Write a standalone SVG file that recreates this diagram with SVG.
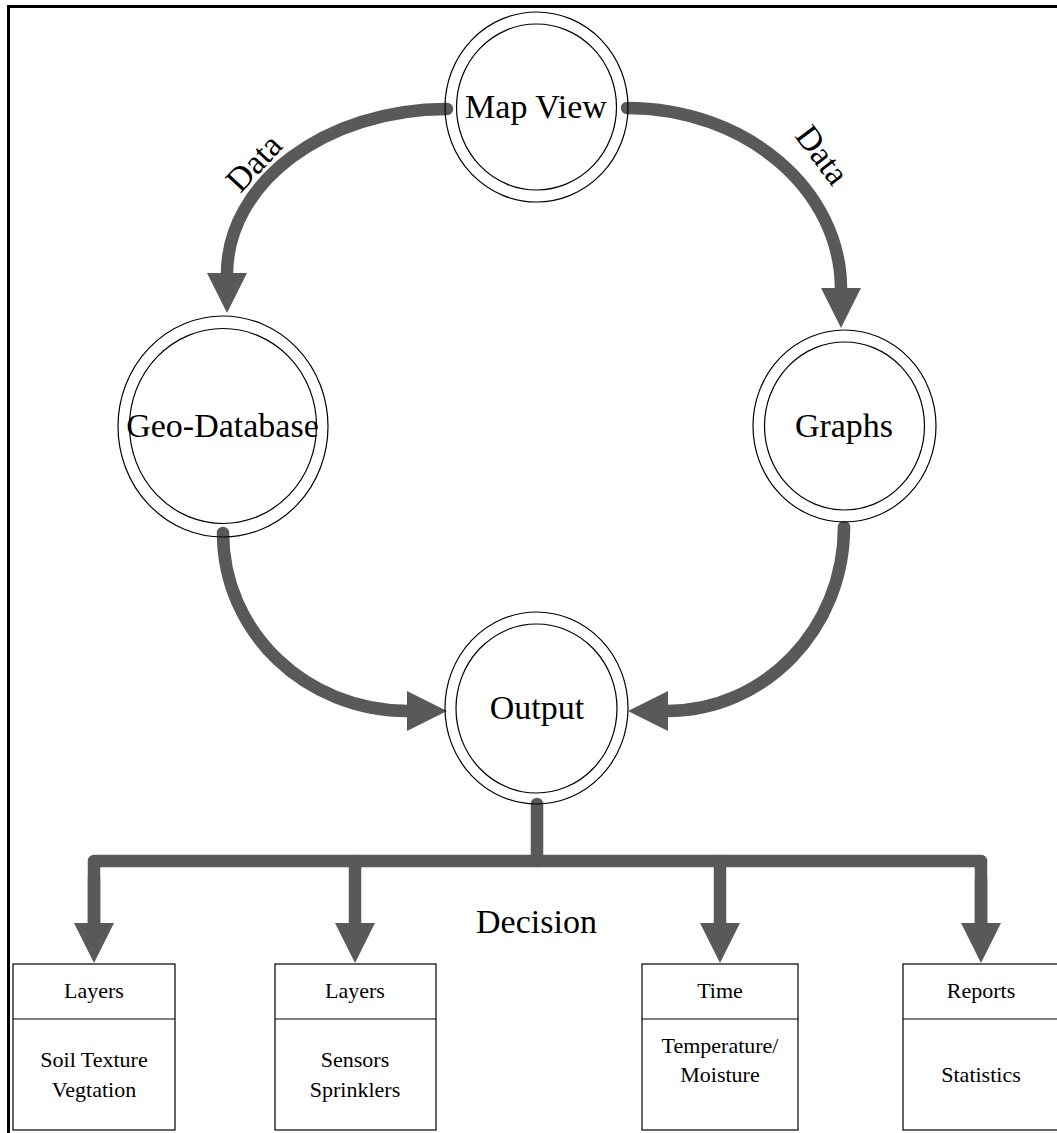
<svg xmlns="http://www.w3.org/2000/svg" width="1057" height="1133" viewBox="0 0 1057 1133">
<style>
.ring{fill:none;stroke:#000;stroke-width:1.2}
.lbl{font-family:"Liberation Serif","Times New Roman",serif;fill:#000;text-anchor:middle}
.big{font-size:34px}
.sm{font-size:22px}
.con{fill:none;stroke:#595959;stroke-width:12.5;stroke-linecap:round;stroke-linejoin:round}
.box{fill:#fff;stroke:#000;stroke-width:1.2}
</style>
<defs>
<marker id="ah" markerUnits="userSpaceOnUse" markerWidth="40" markerHeight="40" viewBox="0 0 40 40" refX="1" refY="20" orient="auto">
<path d="M0,0 L40,20 L0,40 Z" fill="#595959"/>
</marker>
</defs>
<rect width="1057" height="1133" fill="#fff"/>
<g id="frame" fill="none" stroke="#000" stroke-width="3">
<path d="M8.5,1133 V6.5 H1057"/>
</g>
<g id="connectors">
<path class="con" marker-end="url(#ah)" d="M447,109 C325.5,109 227,182.9 227,274"/>
<path class="con" marker-end="url(#ah)" d="M627,108 C745.2,108 841,189 841,289"/>
<path class="con" marker-end="url(#ah)" d="M223,533 C223,632 305.8,711 408,711"/>
<path class="con" marker-end="url(#ah)" d="M844,527 C844,628.6 764.8,711 667,711"/>
<path class="con" d="M537,804 V861"/>
<path class="con" d="M94,924 V861 H981 V924"/>
<path class="con" marker-end="url(#ah)" d="M94,880 V924"/>
<path class="con" marker-end="url(#ah)" d="M355,861 V924"/>
<path class="con" marker-end="url(#ah)" d="M720,861 V924"/>
<path class="con" marker-end="url(#ah)" d="M981,880 V924"/>
<text class="lbl big" transform="translate(254,163) rotate(-47)" x="0" y="11">Data</text>
<text class="lbl big" transform="translate(822,155) rotate(53)" x="0" y="11">Data</text>
<text class="lbl big" x="536.5" y="933">Decision</text>
</g>
<g id="mapview">
<ellipse class="ring" cx="536.5" cy="107" rx="91.5" ry="95"/>
<ellipse class="ring" cx="536.5" cy="107" rx="80" ry="83"/>
<text class="lbl big" x="536" y="118">Map View</text>
</g>
<g id="geodatabase">
<ellipse class="ring" cx="223" cy="426.5" rx="105" ry="110.5"/>
<ellipse class="ring" cx="223" cy="426" rx="93.5" ry="97.5"/>
<text class="lbl big" x="222.5" y="437">Geo-Database</text>
</g>
<g id="graphs">
<ellipse class="ring" cx="844.5" cy="426" rx="91.5" ry="96"/>
<ellipse class="ring" cx="844.5" cy="426" rx="80" ry="84"/>
<text class="lbl big" x="844" y="437">Graphs</text>
</g>
<g id="output">
<ellipse class="ring" cx="536.5" cy="708" rx="91.5" ry="96"/>
<ellipse class="ring" cx="536.5" cy="708.5" rx="80.5" ry="84.5"/>
<text class="lbl big" x="537" y="719">Output</text>
</g>
<g id="box-layers-soil">
<rect class="box" x="13" y="964" width="162" height="166"/>
<line class="box" x1="13" y1="1019" x2="175" y2="1019"/>
<text class="lbl sm" x="94" y="998">Layers</text>
<text class="lbl sm" x="94" y="1067">Soil Texture</text>
<text class="lbl sm" x="94" y="1097">Vegtation</text>
</g>
<g id="box-layers-sensors">
<rect class="box" x="275" y="964" width="161" height="166"/>
<line class="box" x1="275" y1="1019" x2="436" y2="1019"/>
<text class="lbl sm" x="355" y="998">Layers</text>
<text class="lbl sm" x="355" y="1067">Sensors</text>
<text class="lbl sm" x="355" y="1097">Sprinklers</text>
</g>
<g id="box-time">
<rect class="box" x="642" y="964" width="156" height="166"/>
<line class="box" x1="642" y1="1019" x2="798" y2="1019"/>
<text class="lbl sm" x="720" y="998">Time</text>
<text class="lbl sm" x="720" y="1053">Temperature/</text>
<text class="lbl sm" x="720" y="1082">Moisture</text>
</g>
<g id="box-reports">
<rect class="box" x="903" y="964" width="160" height="166"/>
<line class="box" x1="903" y1="1019" x2="1063" y2="1019"/>
<text class="lbl sm" x="981" y="998">Reports</text>
<text class="lbl sm" x="981" y="1082">Statistics</text>
</g>
</svg>
